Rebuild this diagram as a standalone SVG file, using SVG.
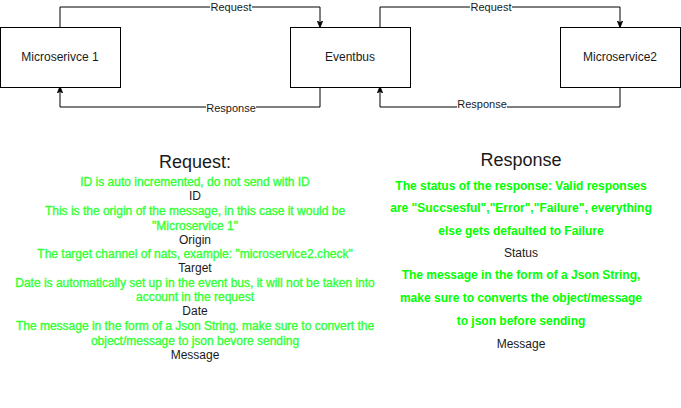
<svg xmlns="http://www.w3.org/2000/svg" width="681" height="408" viewBox="0 0 681 408">
<defs>
<style>
.box{fill:#fff;stroke:#000;stroke-width:1}
.lbl{font-family:"Liberation Sans",Arial,sans-serif;font-size:12px;fill:#1a1a1a;text-anchor:middle;dominant-baseline:central}
.edge{fill:none;stroke:#000;stroke-width:1}
.el{font-family:"Liberation Sans",Arial,sans-serif;font-size:11px;fill:#1a1a1a;text-anchor:middle;dominant-baseline:central}
.elbg{fill:#fff}
.t{font-family:"Liberation Sans",Arial,sans-serif;font-size:12px;text-anchor:middle;dominant-baseline:central}
.g1{fill:#33FF33;stroke:#33FF33;stroke-width:0.35}
.g2{fill:#00FF00;font-weight:bold}
.k{fill:#1a1a1a}
.h{font-family:"Liberation Sans",Arial,sans-serif;font-size:18px;fill:#1a1a1a;text-anchor:middle;dominant-baseline:central}
</style>
<marker id="arr" viewBox="0 0 10 10" refX="9" refY="5" markerWidth="7" markerHeight="7" orient="auto" markerUnits="userSpaceOnUse">
<path d="M0,1 L10,5 L0,9 L3,5 Z" fill="#000" stroke="#000"/>
</marker>
</defs>
<rect width="681" height="408" fill="#fff"/>
<g id="connectors">
<path class="edge" d="M60,27 V7 H320 V27" marker-end="url(#arr)"/>
<rect class="elbg" x="210" y="1" width="42" height="12"/>
<text class="el" x="231" y="7">Request</text>
<path class="edge" d="M320,87 V107 H60 V87" marker-end="url(#arr)"/>
<rect class="elbg" x="206" y="102" width="50" height="12"/>
<text class="el" x="231" y="108">Response</text>
<path class="edge" d="M380,27 V7 H620 V27" marker-end="url(#arr)"/>
<rect class="elbg" x="470" y="1" width="42" height="12"/>
<text class="el" x="491" y="7">Request</text>
<path class="edge" d="M620,87 V107 H380 V87" marker-end="url(#arr)"/>
<rect class="elbg" x="457" y="102" width="50" height="12"/>
<text class="el" x="482" y="104">Response</text>
</g>
<g id="node-ms1">
<rect class="box" x="0.5" y="27.5" width="120" height="60"/>
<text class="lbl" x="60" y="57">Microserivce 1</text>
</g>
<g id="node-eventbus">
<rect class="box" x="290.5" y="27.5" width="120" height="60"/>
<text class="lbl" x="350" y="57">Eventbus</text>
</g>
<g id="node-ms2">
<rect class="box" x="560.5" y="27.5" width="120" height="60"/>
<text class="lbl" x="620" y="57">Microservice2</text>
</g>
<g id="request-text">
<text class="h" x="195" y="162">Request:</text>
<text class="t g1" x="195" y="182">ID is auto incremented, do not send with ID</text>
<text class="t k" x="195" y="196">ID</text>
<text class="t g1" x="195" y="211">This is the origin of the message, in this case it would be</text>
<text class="t g1" x="195" y="226">"Microservice 1"</text>
<text class="t k" x="195" y="240">Origin</text>
<text class="t g1" x="195" y="254">The target channel of nats, example: "microservice2.check"</text>
<text class="t k" x="195" y="268">Target</text>
<text class="t g1" x="195" y="283">Date is automatically set up in the event bus, it will not be taken into</text>
<text class="t g1" x="195" y="297">account in the request</text>
<text class="t k" x="195" y="311">Date</text>
<text class="t g1" x="195" y="326">The message in the form of a Json String. make sure to convert the</text>
<text class="t g1" x="195" y="341">object/message to json bevore sending</text>
<text class="t k" x="195" y="355">Message</text>
</g>
<g id="response-text">
<text class="h" x="521" y="160">Response</text>
<text class="t g2" x="521" y="186">The status of the response: Valid responses</text>
<text class="t g2" x="521" y="208">are "Succsesful","Error","Failure", everything</text>
<text class="t g2" x="521" y="231">else gets defaulted to Failure</text>
<text class="t k" x="521" y="253">Status</text>
<text class="t g2" x="521" y="275">The message in the form of a Json String,</text>
<text class="t g2" x="521" y="298">make sure to converts the object/message</text>
<text class="t g2" x="521" y="321">to json before sending</text>
<text class="t k" x="521" y="344">Message</text>
</g>
</svg>
